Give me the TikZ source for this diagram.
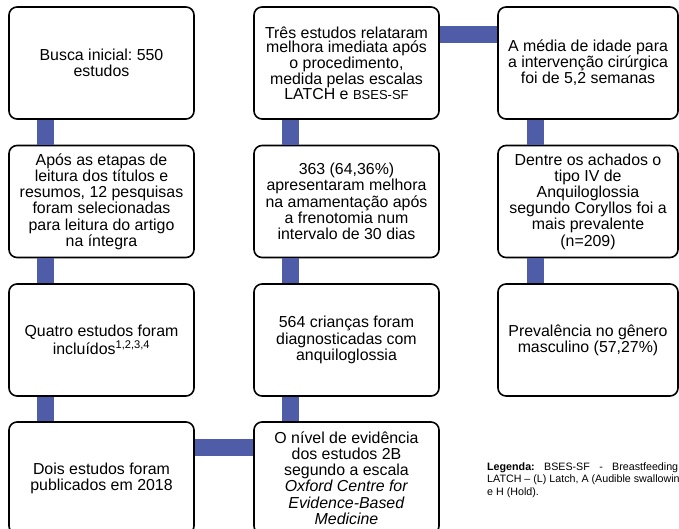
\documentclass[tikz,border=0pt]{standalone}
\usepackage{fontspec}
\setmainfont{Liberation Sans}
\usepackage{xcolor}
\usepackage{tikz}
\frenchspacing
\definecolor{ink}{HTML}{000000}
\definecolor{bar}{HTML}{4F5CA8}
\tikzset{
  box/.style={draw=ink, fill=white, line width=1.6pt, rounded corners=8pt,
    minimum width=185pt, minimum height=112pt, align=center, inner sep=2pt,
    font=\fontsize{15.9}{16.2}\selectfont},
  toprow/.style={font=\fontsize{15.9}{14.6}\selectfont},
  narrow/.style={minimum width=180pt},
  link/.style={draw=bar, line width=17pt},
  legend/.style={text=ink, align=left, inner sep=0pt,
    font=\fontsize{10.7}{12.5}\selectfont}
}

\begin{document}
\begin{tikzpicture}[x=1pt,y=-1pt]
  \useasboundingbox (0,0) rectangle (679,529);
  \clip (0,0) rectangle (679,529);

  % left column
  \node[box] (busca) at (101.5,63) {Busca inicial: 550\\estudos};
  \node[box] (etapas) at (101.5,201.5) {Após as etapas de\\leitura dos títulos e\\resumos, 12 pesquisas\\foram selecionadas\\para leitura do artigo\\na íntegra};
  \node[box] (quatro) at (101.5,340) {Quatro estudos foram\\incluídos\textsuperscript{1,2,3,4}};
  \node[box] (dois) at (101.5,478) {Dois estudos foram\\publicados em 2018};

  % middle column
  \node[box, toprow] (tres) at (346.5,63) {Três estudos relataram\\melhora imediata após\\o procedimento,\\medida pelas escalas\\LATCH e {\fontsize{13}{14.6}\selectfont BSES-SF}};
  \node[box] (melhora) at (346.5,201.5) {363 (64,36\%)\\apresentaram melhora\\na amamentação após\\a frenotomia num\\intervalo de 30 dias};
  \node[box] (criancas) at (346.5,340) {564 crianças foram\\diagnosticadas com\\anquiloglossia};
  \node[box] (nivel) at (346.5,478) {O nível de evidência\\dos estudos 2B\\segundo a escala\\\textit{Oxford Centre for}\\\textit{Evidence-Based}\\\textit{Medicine}};

  % right column
  \node[box, toprow, narrow] (media) at (588,63) {A média de idade para\\a intervenção cirúrgica\\foi de 5,2 semanas};
  \node[box, narrow] (dentre) at (588,201.5) {Dentre os achados o\\tipo IV de\\Anquiloglossia\\segundo Coryllos foi a\\mais prevalente\\(n=209)};
  \node[box, narrow] (prevalencia) at (588,340) {Prevalência no gênero\\masculino (57,27\%)};

  % connectors
  \draw[link] ([xshift=37.5pt]busca.south west) -- ([xshift=37.5pt]etapas.north west);
  \draw[link] ([xshift=37.5pt]etapas.south west) -- ([xshift=37.5pt]quatro.north west);
  \draw[link] ([xshift=37.5pt]quatro.south west) -- ([xshift=37.5pt]dois.north west);
  \draw[link] ([yshift=-26.5pt]dois.north east) -- ([yshift=-26.5pt]nivel.north west);
  \draw[link] ([xshift=37.5pt]nivel.north west) -- ([xshift=37.5pt]criancas.south west);
  \draw[link] ([xshift=37.5pt]criancas.north west) -- ([xshift=37.5pt]melhora.south west);
  \draw[link] ([xshift=37.5pt]melhora.north west) -- ([xshift=37.5pt]tres.south west);
  \draw[link] ([yshift=-28pt]tres.north east) -- ([yshift=-28pt]media.north west);
  \draw[link] ([xshift=38.5pt]media.south west) -- ([xshift=38.5pt]dentre.north west);
  \draw[link] ([xshift=38.5pt]dentre.south west) -- ([xshift=38.5pt]prevalencia.north west);

  \node[legend, anchor=base west] (legenda) at (487,495)
    {\makebox[191pt][s]{\textbf{Legenda:} BSES-SF - Breastfeeding}\\LATCH – (L) Latch, A (Audible swallowin\\e H (Hold).};
\end{tikzpicture}
\end{document}
